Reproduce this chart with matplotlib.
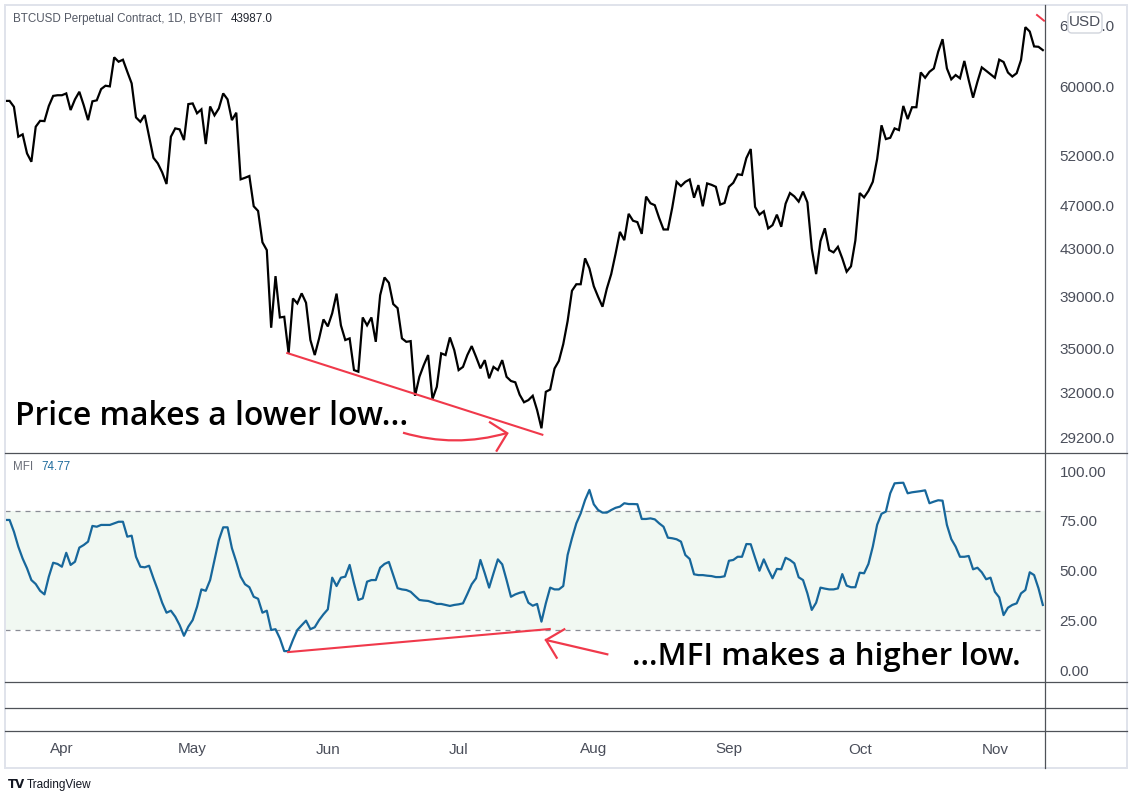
import numpy as np
import pandas as pd
import matplotlib
matplotlib.use("Agg")
import matplotlib.pyplot as plt
import matplotlib.dates as mdates
from matplotlib.ticker import NullLocator
from matplotlib.transforms import Affine2D, blended_transform_factory
from matplotlib.lines import Line2D
from matplotlib.patches import FancyBboxPatch, PathPatch, Rectangle
from matplotlib.path import Path

# ---------------- data ----------------
start_date = "2021-03-19"

price = [
    58200, 58200, 57500, 54080, 54340, 52260, 51370, 55200, 55870, 55840,
    57600, 58800, 58880, 58880, 59100, 57120, 58380, 59300, 57700, 55950,
    58150, 58270, 59630, 60040, 59960, 63640, 63070, 63330, 61790, 60330,
    56260, 55760, 56530, 54080, 51790, 51200, 50270, 49080, 54080, 55010,
    54900, 53710, 57820, 57900, 56740, 57200, 53270, 57540, 56500, 57310,
    59100, 58380, 55950, 56810, 49550, 49710, 49890, 46890, 46440, 43550,
    42860, 36550, 40630, 37330, 37380, 34680, 38810, 38420, 39220, 38470,
    35640, 34560, 35760, 37180, 36650, 37650, 39200, 36730, 35640, 35760,
    33510, 33400, 37330, 36730, 37330, 35510, 39070, 40520, 40080, 38370,
    38050, 35760, 35510, 35560, 31790, 33050, 33850, 34560, 31580, 32380,
    34680, 34560, 35830, 34910, 33510, 33730, 34560, 35200, 34430, 33630,
    34200, 32950, 33730, 33510, 34200, 33050, 32770, 32680, 31860, 31370,
    31510, 31790, 30870, 29740, 32050, 32200, 33620, 34150, 35340, 37050,
    39430, 39960, 39960, 42140, 41280, 39800, 38940, 38160, 39610, 40800,
    42540, 44490, 43740, 46170, 45520, 45390, 44310, 47830, 47180, 46990,
    45770, 44710, 44710, 46760, 49300, 48870, 49300, 49540, 47720, 48970,
    46890, 49140, 49000, 48800, 47050, 47210, 48800, 49200, 50070, 50000,
    51760, 52730, 46830, 46090, 46410, 44810, 45110, 46090, 44960, 47140,
    48180, 47850, 47340, 48320, 47270, 43000, 40800, 43650, 44820, 42860,
    42660, 43150, 42140, 41000, 41460, 43710, 48180, 47750, 48390, 49300,
    51660, 55360, 53820, 53960, 55010, 54820, 57600, 56070, 57450, 57450,
    61700, 61030, 61780, 62210, 64380, 66050, 62210, 60830, 61370, 60960,
    63170, 60740, 58590, 60530, 62340, 61910, 61460, 61030, 63340, 63030,
    61690, 61180, 61600, 63290, 67700, 67100, 65080, 65030, 64590,
]

mfi = [
    75.4, 75.4, 69.5, 62.0, 56.0, 51.1, 45.2, 43.2, 39.8, 38.0,
    46.9, 53.9, 53.3, 51.9, 58.9, 52.8, 54.4, 61.5, 62.8, 64.5,
    72.4, 72.0, 72.9, 72.9, 72.9, 73.7, 74.5, 74.5, 67.0, 67.5,
    56.9, 51.9, 51.6, 52.4, 46.1, 40.2, 33.8, 28.8, 29.8, 26.8,
    22.6, 17.2, 21.8, 25.1, 31.8, 40.5, 39.8, 45.2, 55.3, 65.3,
    71.7, 71.7, 61.2, 54.4, 46.9, 43.1, 41.6, 36.8, 35.8, 28.8,
    29.8, 20.1, 20.5, 15.9, 9.5, 9.5, 15.1, 20.1, 22.5, 24.8,
    20.5, 21.5, 25.1, 28.0, 30.5, 46.4, 42.2, 46.4, 46.9, 52.8,
    43.6, 35.2, 36.0, 44.4, 45.2, 45.2, 51.4, 53.3, 54.3, 47.7,
    41.1, 40.5, 40.2, 39.3, 37.2, 35.2, 34.9, 34.7, 34.0, 33.2,
    33.2, 32.7, 32.2, 32.7, 33.0, 33.5, 38.2, 43.1, 46.1, 55.3,
    48.6, 41.4, 48.6, 55.6, 53.1, 45.2, 36.8, 38.0, 38.8, 39.3,
    33.8, 32.3, 33.2, 24.3, 33.5, 41.4, 40.5, 40.5, 42.2, 57.8,
    66.2, 73.7, 78.7, 85.4, 90.5, 83.3, 80.4, 79.1, 79.1, 80.4,
    81.5, 82.1, 83.8, 83.4, 83.4, 83.3, 75.9, 75.9, 76.2, 75.7,
    73.7, 72.0, 66.5, 66.2, 65.7, 64.5, 57.8, 55.8, 48.1, 47.7,
    47.7, 47.4, 47.2, 46.7, 46.7, 47.1, 54.9, 55.3, 56.9, 56.9,
    63.3, 63.2, 56.4, 49.9, 55.6, 50.6, 46.1, 50.8, 50.6, 56.4,
    55.3, 53.6, 46.6, 45.2, 38.5, 30.2, 33.8, 41.4, 40.9, 40.5,
    40.5, 41.0, 48.2, 42.4, 41.6, 41.6, 48.9, 48.6, 53.3, 62.0,
    73.0, 78.5, 79.6, 88.8, 93.8, 94.0, 94.1, 88.8, 89.3, 89.6,
    89.9, 90.3, 83.8, 84.6, 85.3, 85.1, 72.9, 65.8, 62.0, 56.9,
    56.9, 57.3, 50.6, 51.4, 49.1, 45.6, 46.4, 39.3, 36.5, 27.6,
    31.3, 32.7, 33.5, 38.5, 40.2, 49.1, 47.7, 41.1, 32.7,
]

price_ticks = [29200, 32000, 35000, 39000, 43000, 47000, 52000, 60000, 68000]
mfi_ticks = [0, 25, 50, 75, 100]
mfi_band = (20, 80)
month_labels = ["Apr", "May", "Jun", "Jul", "Aug", "Sep", "Oct", "Nov"]
month_starts = ["2021-04-01", "2021-05-01", "2021-06-01", "2021-07-01",
                "2021-08-01", "2021-09-01", "2021-10-01", "2021-11-01"]

# divergence trendlines (day offset from start, value)
price_trend_days = [64.7, 123.2]
price_trend_vals = [34700, 29350]
mfi_trend_days = [64.9, 124.9]
mfi_trend_vals = [9.0, 20.6]

title_text = "BTCUSD Perpetual Contract, 1D, BYBIT"
title_price = "43987.0"
mfi_label = "MFI"
mfi_value = "74.77"

# ---------------- figure ----------------
W, H = 1133, 795
fig = plt.figure(figsize=(W / 100, H / 100), dpi=100)
fig.patch.set_facecolor("white")

def rect(x0, y0, x1, y1):
    return [x0 / W, 1 - y1 / H, (x1 - x0) / W, (y1 - y0) / H]

px = Affine2D().scale(1 / W, -1 / H).translate(0, 1) + fig.transFigure

dates = pd.date_range(start_date, periods=len(price), freq="D")
t0 = pd.Timestamp(start_date)
def day(d):
    return t0 + pd.Timedelta(days=d)

axp = fig.add_axes(rect(5, 5, 1045, 453))
axm = fig.add_axes(rect(5, 453, 1045, 682), sharex=axp)
axe1 = fig.add_axes(rect(5, 682, 1045, 708), sharex=axp)
axe2 = fig.add_axes(rect(5, 708, 1045, 731), sharex=axp)
axt = fig.add_axes(rect(5, 731, 1045, 768), sharex=axp)

TXT = "#4a4e5a"
AXFONT = "Liberation Sans"
AXSIZE = 11
for ax in (axp, axm, axe1, axe2, axt):
    ax.set_facecolor("none")
    for s in ax.spines.values():
        s.set_visible(False)
    ax.tick_params(axis="x", which="both", bottom=False, labelbottom=False,
                   top=False, labeltop=False)
    ax.tick_params(axis="y", which="both", left=False, labelleft=False)

axp.set_xlim(day(-0.05), day(238.5))

# price panel
axp.plot(dates, price, color="black", lw=1.6, solid_joinstyle="miter")
axp.set_yscale("log")
axp.set_ylim(28270, 70850)
axp.yaxis.tick_right()
axp.set_yticks(price_ticks)
axp.set_yticklabels([f"{v:.1f}" for v in price_ticks])
axp.yaxis.set_minor_locator(NullLocator())
axp.tick_params(axis="y", which="both", right=False, left=False, labelright=True,
                labelleft=False, pad=7, labelsize=AXSIZE, labelcolor=TXT)
for lab in axp.get_yticklabels():
    lab.set_fontfamily(AXFONT)

RED = "#f0394b"
axp.plot([day(d) for d in price_trend_days], price_trend_vals, color=RED, lw=1.5,
         clip_on=False)

# MFI panel
axm.axhspan(mfi_band[0], mfi_band[1], color="#f1f8f2", zorder=0, lw=0)
for lvl in mfi_band:
    axm.axhline(lvl, color="#8a8d96", lw=0.9, ls=(0, (4, 4)), zorder=1)
axm.plot(dates, mfi, color="#17679b", lw=1.6, zorder=3)
axm.plot([day(d) for d in mfi_trend_days], mfi_trend_vals, color=RED, lw=1.5,
         zorder=4)
axm.set_ylim(-6.03, 109.05)
axm.yaxis.tick_right()
axm.set_yticks(mfi_ticks)
axm.set_yticklabels([f"{v:.2f}" for v in mfi_ticks])
axm.tick_params(axis="y", which="both", right=False, left=False, labelright=True,
                labelleft=False, pad=7, labelsize=AXSIZE, labelcolor=TXT)
for lab in axm.get_yticklabels():
    lab.set_fontfamily(AXFONT)

for ax in (axe1, axe2, axt):
    ax.set_yticks([])

# month labels on time axis
tb = blended_transform_factory(axt.transData, axt.transAxes)
for lab, d in zip(month_labels, month_starts):
    axt.text(pd.Timestamp(d), 0.50, lab, transform=tb, ha="center", va="center",
             fontsize=AXSIZE, color=TXT, family=AXFONT)

# ---------------- frame lines ----------------
def pline(xs, ys, **kw):
    fig.add_artist(Line2D(xs, ys, transform=px, **kw))

fig.add_artist(Rectangle((4.5, 5), 1122.5, 763, transform=px, fill=False,
                         ec="#e0e3eb", lw=1.4))
DARK = "#4f5258"
for yy in (453, 682, 708, 731):
    pline([5, 1127], [yy, yy], color=DARK, lw=0.9)
pline([1045, 1045], [5, 768], color=DARK, lw=0.9)

# ---------------- header texts ----------------
t1 = fig.text(13 / W, 1 - 19 / H, title_text, fontsize=8.4, color="#555a66",
              family=AXFONT, va="center", ha="left")
fig.canvas.draw()
r = fig.canvas.get_renderer()
bb = t1.get_window_extent(r)
fig.text((bb.x1 + 8) / W, 1 - 19 / H, title_price, fontsize=8.4, color="#222630",
         family=AXFONT, va="center", ha="left")

t2 = fig.text(13 / W, 1 - 467 / H, mfi_label, fontsize=8.4, color="#6a6e78",
              family=AXFONT, va="center", ha="left")
bb2 = t2.get_window_extent(r)
fig.text((bb2.x1 + 8) / W, 1 - 467 / H, mfi_value, fontsize=8.4, color="#1e6b9c",
         family=AXFONT, va="center", ha="left")

# USD badge (covers part of the top price label, as in the source)
fig.add_artist(FancyBboxPatch((1068, 12), 34, 21, transform=px,
                              boxstyle="round,pad=0,rounding_size=4",
                              fc="white", ec="#d1d4dc", lw=1.0, zorder=5))
fig.text(1085 / W, 1 - 22.5 / H, "USD", fontsize=AXSIZE, color=TXT, family=AXFONT,
         ha="center", va="center", zorder=6)

# ---------------- annotations ----------------
BIG = "Open Sans"
ta = fig.text(15 / W, 1 - 425 / H, "Price makes a lower low...", fontsize=22,
              fontweight="semibold", family=BIG, color="black", va="baseline",
              ha="left")
tbm = fig.text(632 / W, 1 - 665 / H, "...MFI makes a higher low.", fontsize=22,
               fontweight="semibold", family=BIG, color="black", va="baseline",
               ha="left")
fig.canvas.draw()
r = fig.canvas.get_renderer()
for t, target in ((ta, 392), (tbm, 388)):
    w = t.get_window_extent(r).width
    t.set_fontsize(t.get_fontsize() * target / w)

# curved arrow under price text
curve = Path([(403, 432.7), (455, 448), (507, 433)],
             [Path.MOVETO, Path.CURVE3, Path.CURVE3])
fig.add_artist(PathPatch(curve, transform=px, fill=False, ec=RED, lw=1.6))
pline([490, 507.3, 496.7], [422.3, 433.3, 450.7], color=RED, lw=1.6,
      solid_joinstyle="miter")

# arrow in MFI panel
pline([607.3, 546], [654.3, 640], color=RED, lw=1.6)
pline([564.3, 546, 556.7], [629.3, 640, 657.7], color=RED, lw=1.6,
      solid_joinstyle="miter")

# small red stroke top-right
pline([1037, 1044], [15, 20.7], color=RED, lw=1.4)

# TradingView footer
fig.text(8 / W, 1 - 785 / H, "TV", fontsize=8.5, fontweight="heavy",
         family="DejaVu Sans", color="#131722", va="center", ha="left")
fig.text(27 / W, 1 - 785 / H, "TradingView", fontsize=8.5, family=AXFONT,
         color="#131722", va="center", ha="left")

fig.savefig("out.png", dpi=100, facecolor="white")
